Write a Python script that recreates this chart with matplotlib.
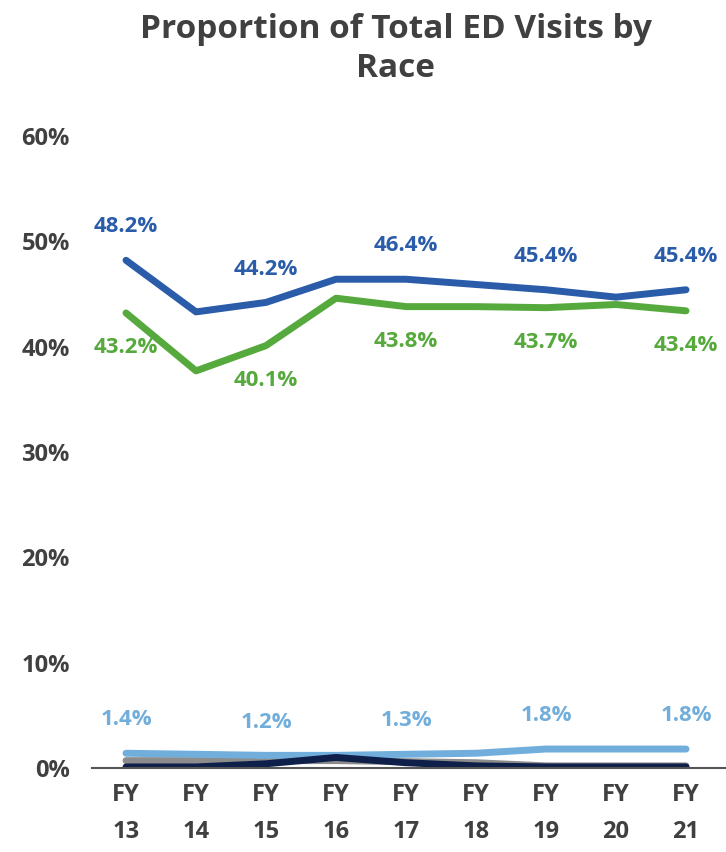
import matplotlib
matplotlib.use('Agg')
import matplotlib.pyplot as plt

plt.rcParams['font.family'] = ['Open Sans', 'DejaVu Sans']

years = ['FY\n13', 'FY\n14', 'FY\n15', 'FY\n16', 'FY\n17', 'FY\n18', 'FY\n19', 'FY\n20', 'FY\n21']
blue = [48.2, 43.3, 44.2, 46.4, 46.4, 45.9, 45.4, 44.7, 45.4]
green = [43.2, 37.7, 40.1, 44.6, 43.8, 43.8, 43.7, 44.0, 43.4]
light = [1.4, 1.3, 1.2, 1.2, 1.3, 1.4, 1.8, 1.8, 1.8]
gray = [0.7, 0.7, 0.7, 0.7, 0.6, 0.5, 0.2, 0.2, 0.2]
navy = [0.1, 0.1, 0.4, 1.0, 0.5, 0.2, 0.1, 0.1, 0.1]
label_idx = [0, 2, 4, 6, 8]

c_blue = '#2A5CAA'
c_green = '#56A93C'
c_light = '#72AEDB'
c_gray = '#8C8C8C'
c_navy = '#0E1F4A'
c_text = '#404040'

fig = plt.figure(figsize=(7.26, 8.52), dpi=100)
ax = fig.add_axes([0.1267, 0.0986, 0.8733, 0.7418])
x = list(range(len(years)))

ax.plot(x, gray, color=c_gray, lw=5, solid_capstyle='round')
ax.plot(x, light, color=c_light, lw=5, solid_capstyle='round')
ax.plot(x, navy, color=c_navy, lw=5, solid_capstyle='round')
ax.plot(x, green, color=c_green, lw=5, solid_capstyle='round')
ax.plot(x, blue, color=c_blue, lw=5, solid_capstyle='round')

for i in label_idx:
    ax.annotate(f'{blue[i]:.1f}%', (x[i], blue[i]), xytext=(0, 24), textcoords='offset points',
                ha='center', va='center', color=c_blue, fontsize=16, fontweight='bold')
    ax.annotate(f'{green[i]:.1f}%', (x[i], green[i]), xytext=(0, -25), textcoords='offset points',
                ha='center', va='center', color=c_green, fontsize=16, fontweight='bold')
    ax.annotate(f'{light[i]:.1f}%', (x[i], light[i]), xytext=(0, 24), textcoords='offset points',
                ha='center', va='center', color=c_light, fontsize=16, fontweight='bold')

ax.set_xlim(-0.486, 8.571)
ax.set_ylim(0, 60)
ax.set_yticks([0, 10, 20, 30, 40, 50, 60])
ax.set_yticklabels([f'{v}%' for v in [0, 10, 20, 30, 40, 50, 60]])
ax.set_xticks(x)
ax.set_xticklabels(years, linespacing=1.7)
for s in ['top', 'right', 'left']:
    ax.spines[s].set_visible(False)
ax.spines['bottom'].set_color('#555555')
ax.spines['bottom'].set_linewidth(1.5)
ax.tick_params(axis='both', length=0, labelsize=17, labelcolor=c_text)
ax.tick_params(axis='y', pad=16)
ax.tick_params(axis='x', pad=11)
for t in ax.get_xticklabels() + ax.get_yticklabels():
    t.set_fontweight('bold')
ax.patch.set_visible(False)

fig.text(0.545, 0.985, 'Proportion of Total ED Visits by\nRace', ha='center', va='top',
         fontsize=24, fontweight='bold', color=c_text, linespacing=1.25)

fig.savefig('out.png', dpi=100)
